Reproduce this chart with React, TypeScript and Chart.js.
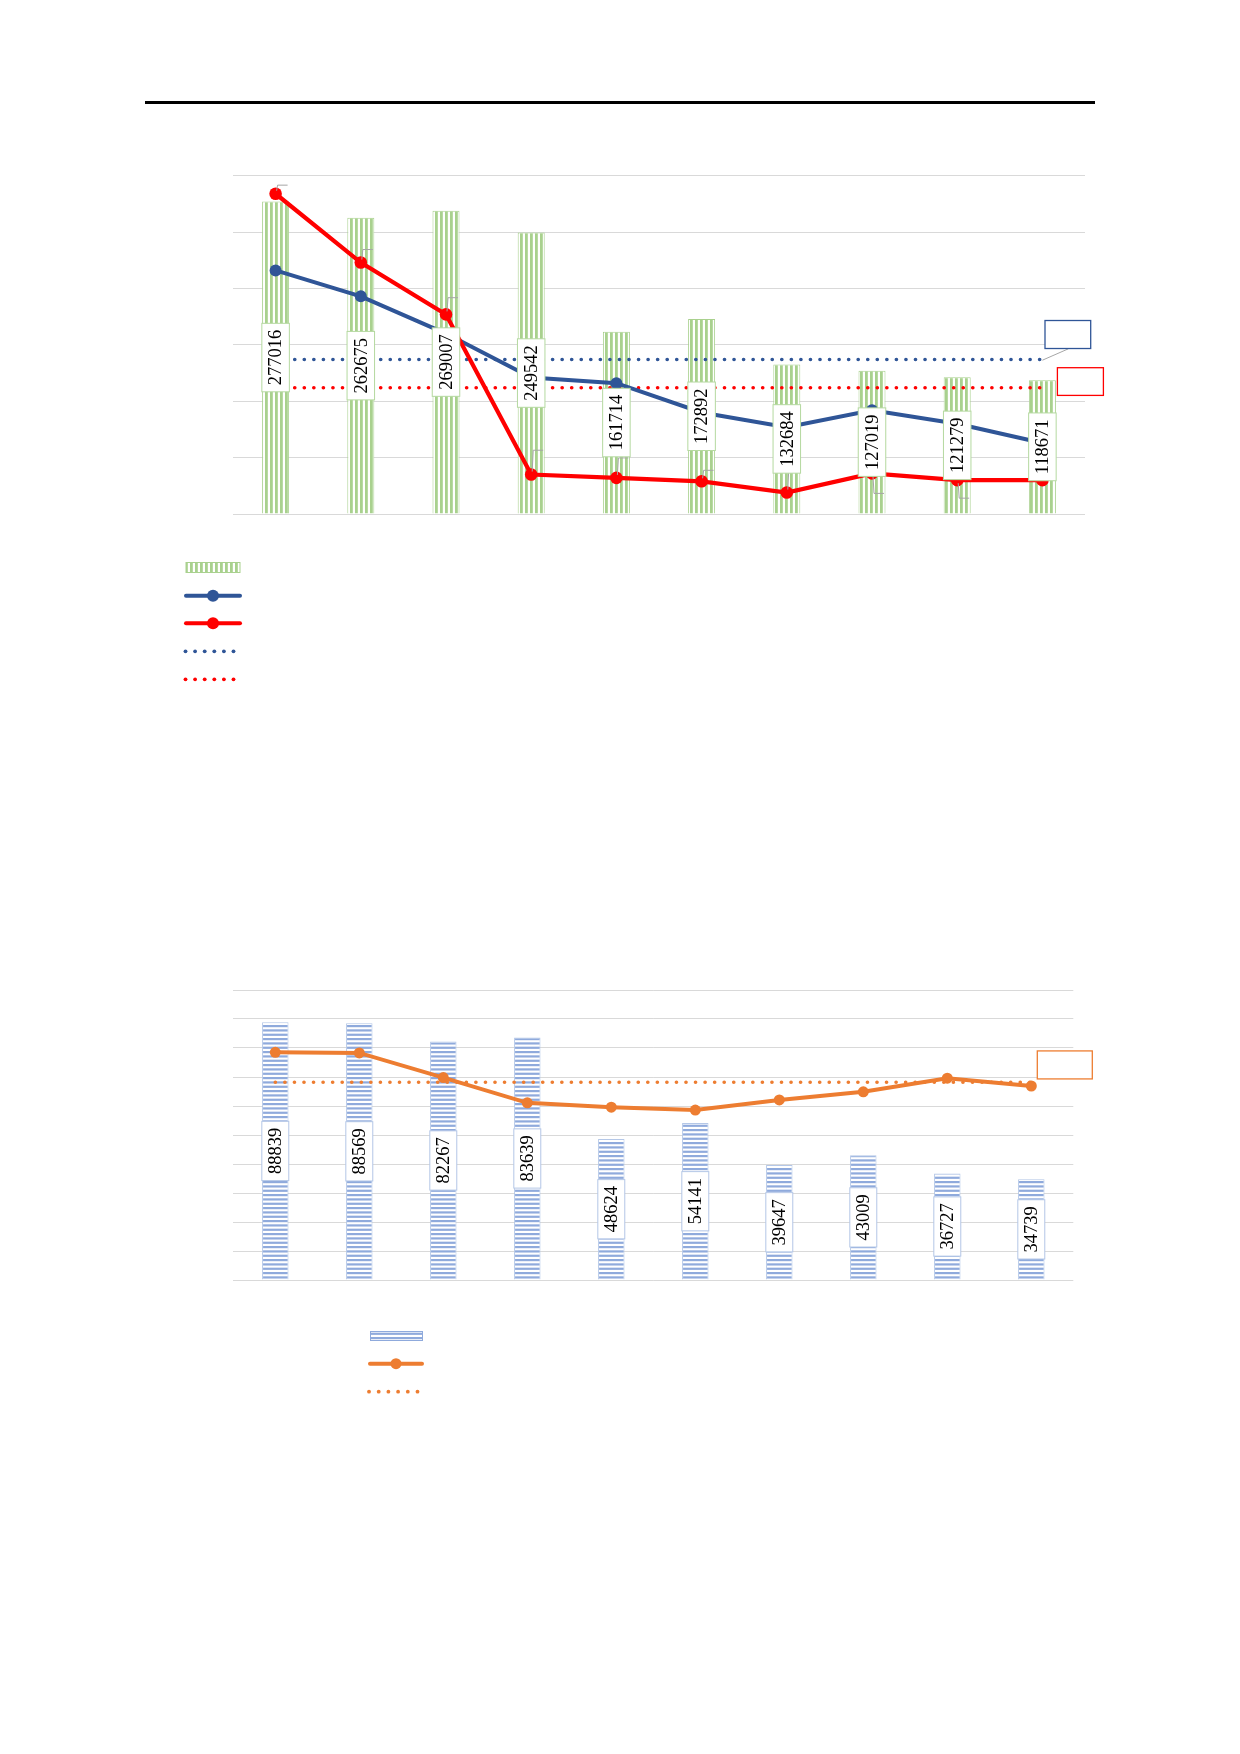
import { useEffect, useRef } from 'react';
import { Chart, registerables } from 'chart.js';

Chart.register(...registerables);

// ---- chart 1 data ----
const categories = ['1', '2', '3', '4', '5', '6', '7', '8', '9', '10'];
const barValues1 = [277016, 262675, 269007, 249542, 161714, 172892, 132684, 127019, 121279, 118671];
const blueLine = [21.6, 19.3, 16.0, 12.1, 11.6, 9.0, 7.7, 9.2, 8.0, 6.3];
const redLine = [28.4, 22.3, 17.7, 3.5, 3.2, 2.9, 1.9, 3.6, 3.0, 3.0];
const blueAvg = 13.7;
const redAvg = 11.2;
const leftAxis1 = { min: 0, max: 300000, step: 50000 };
const rightAxis1 = { min: 0, max: 30 };

// ---- chart 2 data ----
const barValues2 = [88839, 88569, 82267, 83639, 48624, 54141, 39647, 43009, 36727, 34739];
const orangeLine = [78.5, 78.3, 69.8, 61.1, 59.6, 58.6, 62.1, 64.9, 69.6, 66.9];
const orangeAvg = 68.2;
const leftAxis2 = { min: 0, max: 100000, step: 10000 };
const rightAxis2 = { min: 0, max: 100 };

const GREEN = '#a9d18e';
const BLUE_BAR = '#8faadc';
const NAVY = '#2f5597';
const RED = '#ff0000';
const ORANGE = '#ed7d31';
const GRID = '#d9d9d9';
const LEADER = '#a6a6a6';
const LABEL_FONT = '18.5px "Times New Roman", "Liberation Serif", serif';

// little leader hooks left over from the (empty) red point labels
const redLeaderDy = [-8.6, -13, -16.7, -24.3, -20, -11, -24, 20, 18, 0];

const stripes = (color: string, vertical: boolean): CanvasPattern | string => {
  const c = document.createElement('canvas');
  const ctx = c.getContext('2d');
  if (!ctx) return color;
  if (vertical) {
    c.width = 5;
    c.height = 5;
    ctx.fillStyle = '#fff';
    ctx.fillRect(0, 0, 5, 5);
    ctx.fillStyle = color;
    ctx.fillRect(0, 0, 2.8, 5);
  } else {
    c.width = 13;
    c.height = 13;
    ctx.fillStyle = '#fff';
    ctx.fillRect(0, 0, 13, 13);
    ctx.fillStyle = color;
    [0, 4.33, 8.67].forEach((y) => ctx.fillRect(0, y, 13, 2.2));
  }
  return ctx.createPattern(c, 'repeat') || color;
};

const barLabels = (border: string) => ({
  id: 'barLabels',
  afterDatasetsDraw(chart: any) {
    const ctx = chart.ctx;
    const meta = chart.getDatasetMeta(0);
    const data = chart.data.datasets[0].data;
    ctx.save();
    ctx.font = LABEL_FONT;
    meta.data.forEach((bar: any, i: number) => {
      const { x, y, base, width } = bar.getProps(['x', 'y', 'base', 'width'], true);
      const text = String(data[i]);
      const h = ctx.measureText(text).width + 13;
      const cy = (y + base) / 2;
      const w = width + 0.5;
      ctx.fillStyle = '#fff';
      ctx.fillRect(x - w / 2, cy - h / 2, w, h);
      ctx.strokeStyle = border;
      ctx.lineWidth = 1;
      ctx.strokeRect(x - w / 2, cy - h / 2, w, h);
      ctx.save();
      ctx.translate(x + 1, cy);
      ctx.rotate(-Math.PI / 2);
      ctx.fillStyle = '#000';
      ctx.textAlign = 'center';
      ctx.textBaseline = 'middle';
      ctx.fillText(text, 0, 0);
      ctx.restore();
    });
    ctx.restore();
  }
});

interface Callout {
  dataset: number;
  color: string;
  dx: number;
  dy: number;
  w: number;
  h: number;
  leader?: boolean;
}

const callouts = (items: Callout[]) => ({
  id: 'callouts',
  afterDatasetsDraw(chart: any) {
    const ctx = chart.ctx;
    ctx.save();
    items.forEach((c) => {
      const pts = chart.getDatasetMeta(c.dataset).data;
      const p = pts[pts.length - 1];
      if (c.leader) {
        ctx.strokeStyle = LEADER;
        ctx.lineWidth = 1;
        ctx.beginPath();
        ctx.moveTo(p.x, p.y + 0.7);
        ctx.lineTo(p.x + 26, p.y - 10.7);
        ctx.stroke();
      }
      ctx.fillStyle = '#fff';
      ctx.fillRect(p.x + c.dx, p.y + c.dy, c.w, c.h);
      ctx.strokeStyle = c.color;
      ctx.lineWidth = 1.3;
      ctx.strokeRect(p.x + c.dx, p.y + c.dy, c.w, c.h);
    });
    ctx.restore();
  }
});

const redLeaders = {
  id: 'redLeaders',
  afterDatasetsDraw(chart: any) {
    const ctx = chart.ctx;
    const pts = chart.getDatasetMeta(1).data;
    ctx.save();
    ctx.strokeStyle = LEADER;
    ctx.lineWidth = 1;
    pts.forEach((p: any, i: number) => {
      const dy = redLeaderDy[i];
      if (!dy) return;
      const s = Math.sign(dy);
      ctx.beginPath();
      ctx.moveTo(p.x + 1, p.y + s * 3);
      ctx.lineTo(p.x + 2, p.y + dy);
      ctx.lineTo(p.x + 12, p.y + dy);
      ctx.stroke();
    });
    ctx.restore();
  }
};

const dots = (ctx: CanvasRenderingContext2D, x0: number, y: number, n: number, gap: number, color: string) => {
  ctx.fillStyle = color;
  for (let k = 0; k < n; k++) {
    ctx.beginPath();
    ctx.arc(x0 + k * gap, y, 1.9, 0, Math.PI * 2);
    ctx.fill();
  }
};

const lineSample = (ctx: CanvasRenderingContext2D, x0: number, x1: number, y: number, color: string, r: number) => {
  ctx.strokeStyle = color;
  ctx.lineWidth = 4;
  ctx.lineCap = 'round';
  ctx.beginPath();
  ctx.moveTo(x0, y);
  ctx.lineTo(x1, y);
  ctx.stroke();
  ctx.fillStyle = color;
  ctx.beginPath();
  ctx.arc((x0 + x1) / 2, y, r, 0, Math.PI * 2);
  ctx.fill();
};

const legend1 = (fill: CanvasPattern | string) => ({
  id: 'legend1',
  afterDraw(chart: any) {
    const ctx = chart.ctx;
    ctx.save();
    ctx.fillStyle = fill;
    ctx.fillRect(46, 412.5, 54, 10);
    ctx.strokeStyle = GREEN;
    ctx.lineWidth = 1;
    ctx.strokeRect(46, 412.5, 54, 10);
    lineSample(ctx, 46, 100, 445.7, NAVY, 6);
    lineSample(ctx, 46, 100, 473.3, RED, 6);
    dots(ctx, 45.5, 501.3, 6, 9.6, NAVY);
    dots(ctx, 45.5, 529.3, 6, 9.6, RED);
    ctx.restore();
  }
});

const legend2 = (fill: CanvasPattern | string) => ({
  id: 'legend2',
  afterDraw(chart: any) {
    const ctx = chart.ctx;
    ctx.save();
    ctx.fillStyle = fill;
    ctx.fillRect(230.5, 371.5, 52, 9);
    ctx.strokeStyle = BLUE_BAR;
    ctx.lineWidth = 1;
    ctx.strokeRect(230.5, 371.5, 52, 9);
    lineSample(ctx, 230, 282, 403.7, ORANGE, 5.5);
    dots(ctx, 229, 431.7, 6, 9.7, ORANGE);
    ctx.restore();
  }
});

const gridY = (axis: { min: number; max: number; step: number }) => ({
  display: true,
  min: axis.min,
  max: axis.max,
  ticks: { display: false, stepSize: axis.step },
  border: { display: false },
  grid: { color: GRID, lineWidth: 1, drawTicks: false }
});

const dotted = (color: string) => ({
  type: 'line' as const,
  borderColor: color,
  borderWidth: 3.6,
  borderDash: [0.1, 9.45],
  borderCapStyle: 'round' as const,
  pointRadius: 0,
  yAxisID: 'y1',
  order: 3
});

const TopChart: React.FC = () => {
  const canvas = useRef<HTMLCanvasElement | null>(null);

  useEffect(() => {
    const node = canvas.current;
    if (!node) return;
    const fill = stripes(GREEN, true);
    const chart = new Chart(node, {
      type: 'bar',
      data: {
        labels: categories,
        datasets: [
          {
            type: 'bar',
            data: barValues1,
            backgroundColor: fill,
            borderColor: GREEN,
            borderWidth: 1,
            barPercentage: 0.317,
            categoryPercentage: 1,
            order: 5
          },
          {
            type: 'line',
            data: redLine,
            borderColor: RED,
            backgroundColor: RED,
            borderWidth: 4.2,
            pointRadius: 6.3,
            pointBorderWidth: 0,
            yAxisID: 'y1',
            order: 1
          },
          {
            type: 'line',
            data: blueLine,
            borderColor: NAVY,
            backgroundColor: NAVY,
            borderWidth: 4,
            pointRadius: 6,
            pointBorderWidth: 0,
            yAxisID: 'y1',
            order: 2
          },
          { ...dotted(NAVY), data: categories.map(() => blueAvg) },
          { ...dotted(RED), data: categories.map(() => redAvg) }
        ]
      } as any,
      options: {
        responsive: false,
        animation: false,
        layout: { padding: { left: 93, right: 35, top: 25.7, bottom: 196 } },
        plugins: { legend: { display: false }, tooltip: { enabled: false } },
        scales: {
          x: { display: false },
          y: gridY(leftAxis1),
          y1: { display: false, min: rightAxis1.min, max: rightAxis1.max }
        }
      },
      plugins: [
        redLeaders,
        barLabels('#b5d9a0'),
        callouts([
          { dataset: 3, color: NAVY, dx: 2.6, dy: -39, w: 45.7, h: 28, leader: true },
          { dataset: 4, color: RED, dx: 15, dy: -20, w: 46, h: 27.7 }
        ]),
        legend1(fill)
      ]
    });
    return () => chart.destroy();
  }, []);

  return (
    <canvas
      ref={canvas}
      width={980}
      height={560}
      style={{ position: 'absolute', left: 140, top: 150 }}
    />
  );
};

const BottomChart: React.FC = () => {
  const canvas = useRef<HTMLCanvasElement | null>(null);

  useEffect(() => {
    const node = canvas.current;
    if (!node) return;
    const fill = stripes(BLUE_BAR, false);
    const chart = new Chart(node, {
      type: 'bar',
      data: {
        labels: categories,
        datasets: [
          {
            type: 'bar',
            data: barValues2,
            backgroundColor: fill,
            borderColor: '#b4c7e7',
            borderWidth: 1,
            barPercentage: 0.315,
            categoryPercentage: 1,
            order: 5
          },
          {
            type: 'line',
            data: orangeLine,
            borderColor: ORANGE,
            backgroundColor: ORANGE,
            borderWidth: 4,
            pointRadius: 5.5,
            pointBorderWidth: 0,
            yAxisID: 'y1',
            order: 1
          },
          { ...dotted(ORANGE), data: categories.map(() => orangeAvg) }
        ]
      } as any,
      options: {
        responsive: false,
        animation: false,
        layout: { padding: { left: 93.3, right: 46.7, top: 30, bottom: 140 } },
        plugins: { legend: { display: false }, tooltip: { enabled: false } },
        scales: {
          x: { display: false },
          y: gridY(leftAxis2),
          y1: { display: false, min: rightAxis2.min, max: rightAxis2.max }
        }
      },
      plugins: [
        barLabels('#b4c7e7'),
        callouts([{ dataset: 2, color: ORANGE, dx: 6, dy: -31.3, w: 55, h: 28 }]),
        legend2(fill)
      ]
    });
    return () => chart.destroy();
  }, []);

  return (
    <canvas
      ref={canvas}
      width={980}
      height={460}
      style={{ position: 'absolute', left: 140, top: 960 }}
    />
  );
};

export default function App() {
  return (
    <div
      style={{
        position: 'absolute',
        left: 0,
        top: 0,
        width: 1240,
        height: 1754,
        background: '#fff',
        overflow: 'hidden'
      }}
    >
      <div style={{ position: 'absolute', left: 145, top: 100.5, width: 950, height: 3, background: '#000' }} />
      <TopChart />
      <BottomChart />
    </div>
  );
}
